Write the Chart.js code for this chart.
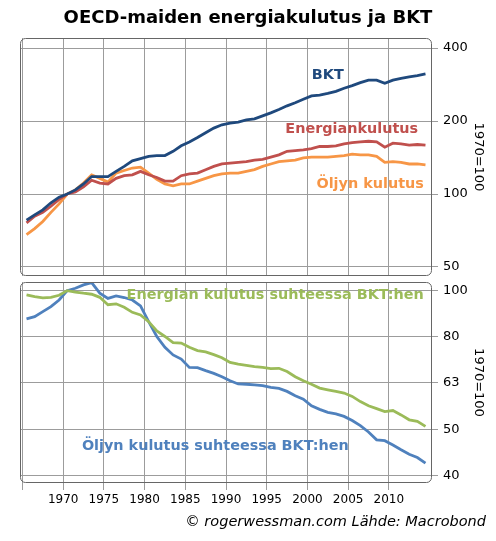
<!DOCTYPE html>
<html>
<head>
<meta charset="utf-8">
<script src="https://cdn.jsdelivr.net/npm/chart.js@4.4.1/dist/chart.umd.min.js"></script>
<style>
  body { margin: 0; background: #fff; font-family: "DejaVu Sans", sans-serif; }
  #wrap { position: relative; width: 496px; height: 541px; }
  #title { position: absolute; top: 6px; left: 0; width: 496px; text-align: center;
           font-weight: bold; font-size: 18px; color: #000; }
  #topChart { position: absolute; left: 0; top: 0; }
  #bottomChart { position: absolute; left: 0; top: 280px; }
  #source { position: absolute; right: 10px; top: 513px; font-style: italic; font-size: 14.5px; color: #000; }
</style>
</head>
<body>
<div id="wrap">
  <canvas id="topChart" width="496" height="280"></canvas>
  <canvas id="bottomChart" width="496" height="261"></canvas>
  <div id="title">OECD-maiden energiakulutus ja BKT</div>
  <div id="source">© rogerwessman.com Lähde: Macrobond</div>
</div>
<script>
const years = [
  1965, 1966, 1967, 1968, 1969, 1970, 1971, 1972, 1973, 1974,
  1975, 1976, 1977, 1978, 1979, 1980, 1981, 1982, 1983, 1984,
  1985, 1986, 1987, 1988, 1989, 1990, 1991, 1992, 1993, 1994,
  1995, 1996, 1997, 1998, 1999, 2000, 2001, 2002, 2003, 2004,
  2005, 2006, 2007, 2008, 2009, 2010, 2011, 2012, 2013, 2014,
];

// 1970 = 100
const gdp = [
  78, 82, 86, 92, 97, 100, 104, 110, 118, 118,
  118, 124, 130, 137, 140, 143, 144, 144, 150, 158,
  164, 171, 179, 187, 193, 196, 198, 202, 204, 210,
  216, 223, 231, 238, 246, 254, 256, 260, 265, 273,
  280, 288, 295, 295, 286, 295, 300, 304, 308, 313,
];
const energy = [
  76, 81, 84, 89, 95, 100, 102, 107, 114, 111,
  110, 116, 119, 120, 124, 120, 117, 113, 113, 119,
  121, 122, 126, 130, 133, 134, 135, 136, 138, 139,
  142, 145, 150, 151, 152, 154, 157, 157, 158, 161,
  163, 164, 165, 164, 156, 162, 161, 159, 160, 159,
];
const oil = [
  68, 72, 77, 84, 91, 100, 104, 111, 120, 116,
  112, 122, 125, 128, 129, 122, 115, 110, 108, 110,
  110, 113, 116, 119, 121, 122, 122, 124, 126, 130,
  133, 136, 137, 138, 141, 142, 142, 142, 143, 144,
  146, 145, 145, 143, 135, 136, 135, 133, 133, 132,
];
const energyPerGdp = [
  97.9, 97.0, 96.4, 96.7, 97.7, 100, 99.3, 98.7, 98.2, 96.7,
  93.2, 93.6, 92.0, 89.7, 88.5, 85.6, 81.7, 79.5, 77.1, 76.9,
  75.3, 74.1, 73.6, 72.6, 71.5, 69.8, 69.2, 68.8, 68.4, 68.1,
  67.7, 67.8, 66.7, 65.0, 63.7, 62.6, 61.4, 60.9, 60.4, 59.9,
  58.9, 57.4, 56.2, 55.4, 54.6, 54.9, 53.7, 52.4, 52.0, 50.7,
];
const oilPerGdp = [
  86.8, 87.8, 90.0, 92.3, 95.4, 100, 101.2, 102.9, 104.1, 98.7,
  96.2, 97.4, 96.6, 95.4, 92.6, 85.6, 79.5, 75.3, 72.5, 71.0,
  68.1, 68.0, 67.0, 66.1, 65.0, 63.7, 62.7, 62.6, 62.4, 62.2,
  61.6, 61.3, 60.4, 59.1, 58.1, 56.2, 55.2, 54.4, 54.0, 53.3,
  52.2, 50.9, 49.3, 47.4, 47.2, 46.2, 45.1, 44.1, 43.4, 42.2,
];

const xTicks = [1965, 1970, 1975, 1980, 1985, 1990, 1995, 2000, 2005, 2010];
const topTicks = [50, 100, 200, 400];
const bottomTicks = [100, 79.37, 63, 50, 39.69];
const bottomTickLabels = ['100', '80', '63', '50', '40'];

const FONT = '"DejaVu Sans", sans-serif';
const GRID = '#9c9c9c';
const C = {
  gdp: '#1f497d',
  energy: '#c0504d',
  oil: '#f79646',
  green: '#9bbb59',
  blue: '#4f81bd',
};

// arvot keskelle vuotta
const pts = (values) => values.map((v, i) => ({ x: years[i] + 0.5, y: v }));

const line = (label, values, color) => ({
  label: label,
  data: pts(values),
  borderColor: color,
  backgroundColor: color,
  borderWidth: 2.8,
  pointRadius: 0,
  tension: 0,
});

// pyöristetty kehys kuvaajan ympärille
const boxPlugin = {
  id: 'box',
  afterDraw(chart) {
    const { ctx, chartArea: a } = chart;
    ctx.save();
    ctx.strokeStyle = '#666';
    ctx.lineWidth = 1;
    ctx.beginPath();
    ctx.roundRect(a.left + 0.5, a.top + 0.5, a.right - a.left - 1, a.bottom - a.top - 1, 5);
    ctx.stroke();
    ctx.restore();
  },
};

// sarjojen nimet suoraan kuvaajaan
const seriesLabels = {
  id: 'seriesLabels',
  afterDatasetsDraw(chart, args, opts) {
    const { ctx, scales } = chart;
    ctx.save();
    ctx.font = 'bold 14.4px ' + FONT;
    ctx.textBaseline = 'middle';
    opts.items.forEach((it) => {
      ctx.fillStyle = it.color;
      ctx.textAlign = it.align;
      ctx.fillText(it.text, scales.x.getPixelForValue(it.x), scales.y.getPixelForValue(it.y));
    });
    ctx.restore();
  },
};

// ei ylimääräistä tilaa akselien reunoille
const noEdgePadding = (s) => {
  s.paddingTop = 0;
  s.paddingBottom = 0;
  s.paddingLeft = 0;
  s.paddingRight = 0;
};

const xScale = (showLabels) => ({
  type: 'linear',
  min: 1964.7,
  max: 2015.3,
  afterBuildTicks: (s) => { s.ticks = xTicks.map((v) => ({ value: v })); },
  grid: { color: GRID, drawTicks: showLabels, tickLength: 7 },
  border: { display: false },
  ticks: {
    display: showLabels,
    color: '#000',
    font: { size: 12, family: FONT },
    padding: 3,
    maxRotation: 0,
    callback: (v) => (v === 1965 ? '' : String(v)),
  },
  afterFit: (s) => {
    s.height = showLabels ? 58 : 0;
    noEdgePadding(s);
  },
});

const yScale = (min, max, ticks, labels) => ({
  type: 'logarithmic',
  position: 'right',
  min: min,
  max: max,
  afterBuildTicks: (s) => { s.ticks = ticks.map((v) => ({ value: v })); },
  grid: { color: GRID, tickLength: 6 },
  border: { display: false },
  ticks: {
    color: '#000',
    font: { size: 13, family: FONT },
    padding: 5,
    callback: (v) => labels[ticks.indexOf(v)],
  },
  title: {
    display: true,
    text: '1970=100',
    color: '#000',
    font: { size: 13, family: FONT },
    padding: { top: 10, bottom: 0 },
  },
  afterFit: (s) => {
    s.width = 64;
    noEdgePadding(s);
  },
});

new Chart(document.getElementById('topChart'), {
  type: 'line',
  data: {
    datasets: [
      line('BKT', gdp, C.gdp),
      line('Energiankulutus', energy, C.energy),
      line('Öljyn kulutus', oil, C.oil),
    ],
  },
  options: {
    responsive: false,
    animation: false,
    layout: { padding: { left: 20, top: 38, bottom: 4, right: 0 } },
    plugins: {
      legend: { display: false },
      tooltip: { enabled: false },
      seriesLabels: {
        items: [
          { text: 'BKT', x: 2002.5, y: 310, color: C.gdp, align: 'center' },
          { text: 'Energiankulutus', x: 2013.6, y: 185, color: C.energy, align: 'right' },
          { text: 'Öljyn kulutus', x: 2014.3, y: 110, color: C.oil, align: 'right' },
        ],
      },
    },
    scales: {
      x: xScale(false),
      y: yScale(45.9, 440, topTicks, topTicks.map(String)),
    },
  },
  plugins: [boxPlugin, seriesLabels],
});

new Chart(document.getElementById('bottomChart'), {
  type: 'line',
  data: {
    datasets: [
      line('Energian kulutus suhteessa BKT:hen', energyPerGdp, C.green),
      line('Öljyn kulutus suhteessa BKT:hen', oilPerGdp, C.blue),
    ],
  },
  options: {
    responsive: false,
    animation: false,
    layout: { padding: { left: 20, top: 2, bottom: 0, right: 0 } },
    plugins: {
      legend: { display: false },
      tooltip: { enabled: false },
      seriesLabels: {
        items: [
          { text: 'Energian kulutus suhteessa BKT:hen', x: 2014.3, y: 97.9, color: C.green, align: 'right' },
          { text: 'Öljyn kulutus suhteessa BKT:hen', x: 1972.3, y: 46.0, color: C.blue, align: 'left' },
        ],
      },
    },
    scales: {
      x: xScale(true),
      y: yScale(38.2, 104.4, bottomTicks, bottomTickLabels),
    },
  },
  plugins: [boxPlugin, seriesLabels],
});
</script>
</body>
</html>
